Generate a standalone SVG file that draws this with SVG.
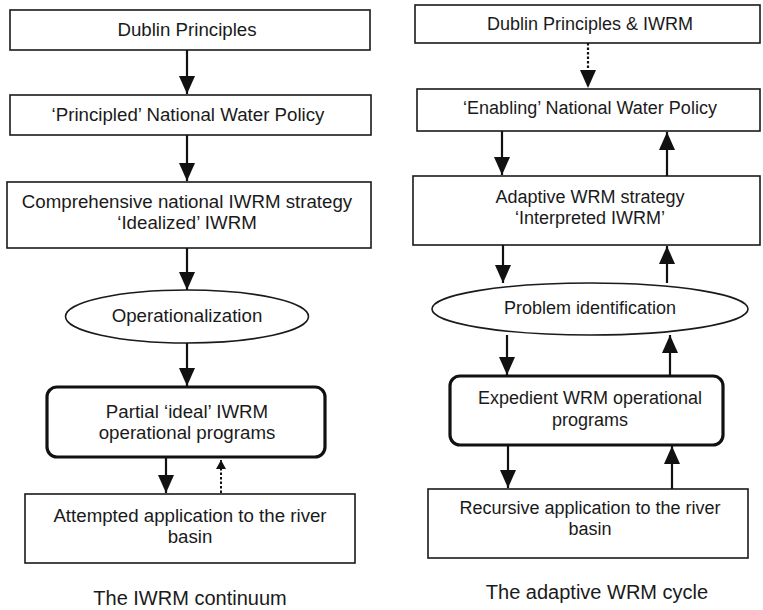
<svg xmlns="http://www.w3.org/2000/svg" width="763" height="610" viewBox="0 0 763 610">
<defs>
<style>
.box{fill:#fff;stroke:#1a1a1a;stroke-width:1.6}
.bold{fill:#fff;stroke:#111;stroke-width:3.2}
.t{font-family:"Liberation Sans",Arial,sans-serif;font-size:18px;fill:#1a1a1a;text-anchor:middle}
.tl{font-family:"Liberation Sans",Arial,sans-serif;font-size:18.7px;fill:#1a1a1a;text-anchor:middle}
.cap{font-family:"Liberation Sans",Arial,sans-serif;font-size:20px;fill:#1a1a1a;text-anchor:middle}
.a{stroke:#111;stroke-width:2.2;fill:none;marker-end:url(#ah)}
.d{stroke:#111;stroke-width:2.2;fill:none;stroke-dasharray:2.5 2;marker-end:url(#ah)}
.ds{stroke:#111;stroke-width:2;fill:none;stroke-dasharray:2.5 2;marker-end:url(#as)}
</style>
<marker id="ah" viewBox="0 0 18 16" refX="18" refY="8" markerWidth="18" markerHeight="16" markerUnits="userSpaceOnUse" orient="auto">
<path d="M0,0 L18,8 L0,16 z" fill="#111"/>
</marker>
<marker id="as" viewBox="0 0 9 10" refX="9" refY="5" markerWidth="9" markerHeight="10" markerUnits="userSpaceOnUse" orient="auto">
<path d="M0,0 L9,5 L0,10 z" fill="#111"/>
</marker>
</defs>
<rect width="763" height="610" fill="#fff"/>

<g id="L1"><rect class="box" x="10" y="10" width="360" height="40"/><text class="tl" x="187" y="36">Dublin Principles</text></g>
<g id="L2"><rect class="box" x="10" y="95" width="361" height="40"/><text class="tl" x="188" y="121">‘Principled’ National Water Policy</text></g>
<g id="L3"><rect class="box" x="7" y="182" width="364" height="66"/><text class="tl" x="187" y="208">Comprehensive national IWRM strategy</text><text class="tl" x="187" y="229">‘Idealized’ IWRM</text></g>
<g id="L4"><ellipse class="box" cx="187" cy="316.5" rx="121.5" ry="26.5"/><text class="tl" x="187" y="322">Operationalization</text></g>
<g id="L5"><rect class="bold" x="47" y="387" width="278" height="70" rx="10"/><text class="tl" x="187" y="418">Partial ‘ideal’ IWRM</text><text class="tl" x="187" y="439">operational programs</text></g>
<g id="L6"><rect class="box" x="25" y="494" width="330" height="69"/><text class="tl" x="190" y="522">Attempted application to the river</text><text class="tl" x="190" y="543">basin</text></g>
<text class="cap" x="190" y="605">The IWRM continuum</text>

<g id="R1"><rect class="box" x="415" y="5" width="345" height="38"/><text class="t" x="590" y="30">Dublin Principles &amp; IWRM</text></g>
<g id="R2"><rect class="box" x="417" y="89" width="343" height="42"/><text class="t" x="590" y="114">‘Enabling’ National Water Policy</text></g>
<g id="R3"><rect class="box" x="413" y="176" width="347" height="69"/><text class="t" x="590" y="203">Adaptive WRM strategy</text><text class="t" x="590" y="224">‘Interpreted IWRM’</text></g>
<g id="R4"><ellipse class="box" cx="590" cy="309" rx="158" ry="26"/><text class="t" x="590" y="314">Problem identification</text></g>
<g id="R5"><rect class="bold" x="450" y="376" width="273" height="69" rx="10"/><text class="t" x="590" y="404">Expedient WRM operational</text><text class="t" x="590" y="426">programs</text></g>
<g id="R6"><rect class="box" x="428" y="489" width="320" height="69"/><text class="t" x="590" y="514">Recursive application to the river</text><text class="t" x="590" y="535">basin</text></g>
<text class="cap" x="597" y="599">The adaptive WRM cycle</text>

<g id="connectors">
<line class="a" x1="187" y1="50" x2="187" y2="94"/>
<line class="a" x1="187" y1="135" x2="187" y2="181"/>
<line class="a" x1="187" y1="248" x2="187" y2="290"/>
<line class="a" x1="187" y1="343" x2="187" y2="386"/>
<line class="a" x1="166" y1="458" x2="166" y2="493"/>
<line class="ds" x1="221" y1="493" x2="221" y2="460"/>

<line class="d" x1="588" y1="43" x2="588" y2="88"/>
<line class="a" x1="502" y1="131" x2="502" y2="175"/>
<line class="a" x1="667" y1="176" x2="667" y2="132"/>
<line class="a" x1="503" y1="245" x2="503" y2="283"/>
<line class="a" x1="667" y1="283" x2="667" y2="246"/>
<line class="a" x1="507" y1="335" x2="507" y2="375"/>
<line class="a" x1="670" y1="376" x2="670" y2="335"/>
<line class="a" x1="508" y1="446" x2="508" y2="488"/>
<line class="a" x1="672" y1="489" x2="672" y2="446"/>
</g>
</svg>
